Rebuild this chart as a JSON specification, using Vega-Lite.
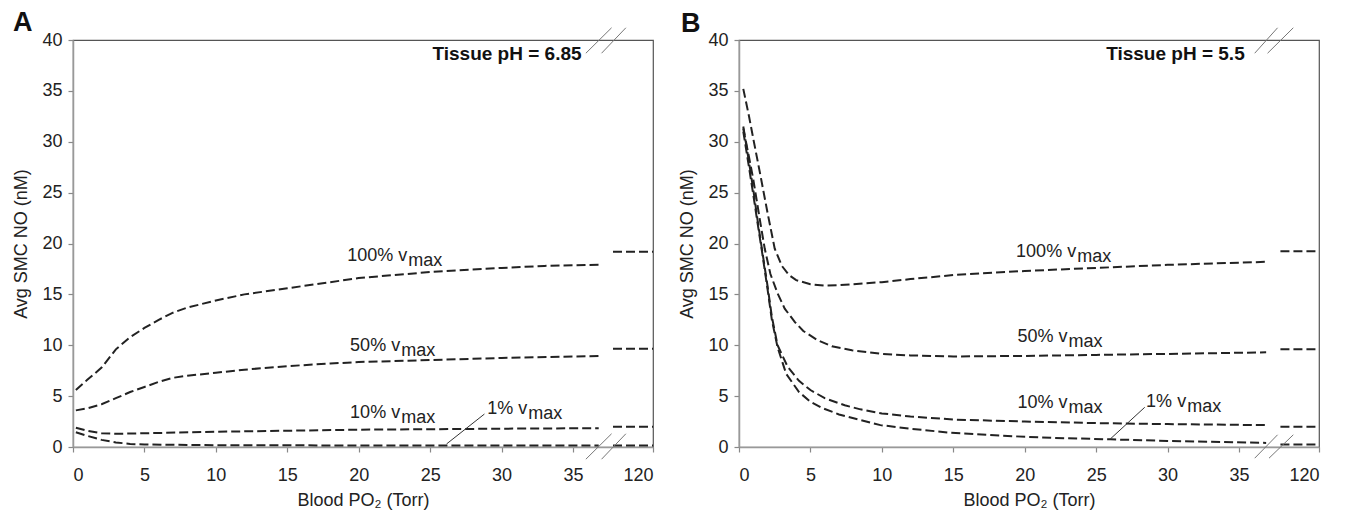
{
  "$schema": "https://vega.github.io/schema/vega-lite/v6.json",
  "autosize": {"type": "pad"},
  "padding": {"left": 12, "top": 8, "right": 5, "bottom": 5},
  "background": "white",
  "spacing": 20,
  "config": {
    "font": "Liberation Sans",
    "view": {"stroke": "#555", "strokeWidth": 1.2},
    "axis": {"domainColor": "#999", "domainWidth": 1.5, "tickColor": "#888", "tickSize": 5, "tickWidth": 1.2, "labelFont": "Liberation Sans", "labelFontSize": 18, "labelColor": "#222", "titleFont": "Liberation Sans", "titleFontSize": 18, "titleFontWeight": "normal", "titleColor": "#222", "grid": false},
    "axisX": {"labelPadding": 14, "titlePadding": 7},
    "axisY": {"labelPadding": 6, "titlePadding": 11}
  },
  "datasets": {
    "curves": [
      {"panel": "A", "curve": "100 main", "x": 0.2, "y": 5.6}, {"panel": "A", "curve": "100 main", "x": 1, "y": 6.6}, {"panel": "A", "curve": "100 main", "x": 2, "y": 7.8}, {"panel": "A", "curve": "100 main", "x": 3, "y": 9.6}, {"panel": "A", "curve": "100 main", "x": 4, "y": 10.8}, {"panel": "A", "curve": "100 main", "x": 5, "y": 11.7}, {"panel": "A", "curve": "100 main", "x": 6, "y": 12.5}, {"panel": "A", "curve": "100 main", "x": 7, "y": 13.2}, {"panel": "A", "curve": "100 main", "x": 8, "y": 13.7}, {"panel": "A", "curve": "100 main", "x": 10, "y": 14.4}, {"panel": "A", "curve": "100 main", "x": 12, "y": 15.0}, {"panel": "A", "curve": "100 main", "x": 15, "y": 15.6}, {"panel": "A", "curve": "100 main", "x": 18, "y": 16.2}, {"panel": "A", "curve": "100 main", "x": 20, "y": 16.6}, {"panel": "A", "curve": "100 main", "x": 25, "y": 17.2}, {"panel": "A", "curve": "100 main", "x": 30, "y": 17.6}, {"panel": "A", "curve": "100 main", "x": 33, "y": 17.8}, {"panel": "A", "curve": "100 main", "x": 36.8, "y": 17.9},
      {"panel": "A", "curve": "100 end", "x": 37.8, "y": 19.2}, {"panel": "A", "curve": "100 end", "x": 40.6, "y": 19.2},
      {"panel": "A", "curve": "50 main", "x": 0.2, "y": 3.6}, {"panel": "A", "curve": "50 main", "x": 1, "y": 3.8}, {"panel": "A", "curve": "50 main", "x": 2, "y": 4.2}, {"panel": "A", "curve": "50 main", "x": 3, "y": 4.8}, {"panel": "A", "curve": "50 main", "x": 4, "y": 5.4}, {"panel": "A", "curve": "50 main", "x": 5, "y": 5.9}, {"panel": "A", "curve": "50 main", "x": 6, "y": 6.4}, {"panel": "A", "curve": "50 main", "x": 7, "y": 6.8}, {"panel": "A", "curve": "50 main", "x": 8, "y": 7.0}, {"panel": "A", "curve": "50 main", "x": 10, "y": 7.3}, {"panel": "A", "curve": "50 main", "x": 12, "y": 7.6}, {"panel": "A", "curve": "50 main", "x": 15, "y": 7.95}, {"panel": "A", "curve": "50 main", "x": 18, "y": 8.2}, {"panel": "A", "curve": "50 main", "x": 20, "y": 8.35}, {"panel": "A", "curve": "50 main", "x": 25, "y": 8.55}, {"panel": "A", "curve": "50 main", "x": 30, "y": 8.75}, {"panel": "A", "curve": "50 main", "x": 36.8, "y": 8.95},
      {"panel": "A", "curve": "50 end", "x": 37.8, "y": 9.65}, {"panel": "A", "curve": "50 end", "x": 40.6, "y": 9.65},
      {"panel": "A", "curve": "10 main", "x": 0.2, "y": 1.9}, {"panel": "A", "curve": "10 main", "x": 1, "y": 1.6}, {"panel": "A", "curve": "10 main", "x": 2, "y": 1.35}, {"panel": "A", "curve": "10 main", "x": 3, "y": 1.3}, {"panel": "A", "curve": "10 main", "x": 5, "y": 1.35}, {"panel": "A", "curve": "10 main", "x": 10, "y": 1.5}, {"panel": "A", "curve": "10 main", "x": 15, "y": 1.6}, {"panel": "A", "curve": "10 main", "x": 20, "y": 1.7}, {"panel": "A", "curve": "10 main", "x": 25, "y": 1.75}, {"panel": "A", "curve": "10 main", "x": 30, "y": 1.8}, {"panel": "A", "curve": "10 main", "x": 36.8, "y": 1.85},
      {"panel": "A", "curve": "10 end", "x": 37.8, "y": 2.0}, {"panel": "A", "curve": "10 end", "x": 40.6, "y": 2.0},
      {"panel": "A", "curve": "1 main", "x": 0.2, "y": 1.45}, {"panel": "A", "curve": "1 main", "x": 1, "y": 1.1}, {"panel": "A", "curve": "1 main", "x": 2, "y": 0.7}, {"panel": "A", "curve": "1 main", "x": 3, "y": 0.45}, {"panel": "A", "curve": "1 main", "x": 4, "y": 0.3}, {"panel": "A", "curve": "1 main", "x": 5, "y": 0.25}, {"panel": "A", "curve": "1 main", "x": 8, "y": 0.2}, {"panel": "A", "curve": "1 main", "x": 10, "y": 0.18}, {"panel": "A", "curve": "1 main", "x": 20, "y": 0.15}, {"panel": "A", "curve": "1 main", "x": 36.8, "y": 0.15},
      {"panel": "A", "curve": "1 end", "x": 37.8, "y": 0.15}, {"panel": "A", "curve": "1 end", "x": 40.6, "y": 0.15},

      {"panel": "B", "curve": "100 main", "x": 0.3, "y": 35.2}, {"panel": "B", "curve": "100 main", "x": 0.7, "y": 32.5}, {"panel": "B", "curve": "100 main", "x": 1, "y": 30.3}, {"panel": "B", "curve": "100 main", "x": 1.5, "y": 26.7}, {"panel": "B", "curve": "100 main", "x": 2, "y": 23.0}, {"panel": "B", "curve": "100 main", "x": 2.5, "y": 19.5}, {"panel": "B", "curve": "100 main", "x": 3, "y": 17.8}, {"panel": "B", "curve": "100 main", "x": 3.5, "y": 16.9}, {"panel": "B", "curve": "100 main", "x": 4, "y": 16.4}, {"panel": "B", "curve": "100 main", "x": 5, "y": 16.0}, {"panel": "B", "curve": "100 main", "x": 6, "y": 15.85}, {"panel": "B", "curve": "100 main", "x": 7, "y": 15.9}, {"panel": "B", "curve": "100 main", "x": 8, "y": 16.0}, {"panel": "B", "curve": "100 main", "x": 10, "y": 16.2}, {"panel": "B", "curve": "100 main", "x": 12, "y": 16.5}, {"panel": "B", "curve": "100 main", "x": 15, "y": 16.9}, {"panel": "B", "curve": "100 main", "x": 20, "y": 17.3}, {"panel": "B", "curve": "100 main", "x": 25, "y": 17.6}, {"panel": "B", "curve": "100 main", "x": 30, "y": 17.9}, {"panel": "B", "curve": "100 main", "x": 36.9, "y": 18.2},
      {"panel": "B", "curve": "100 end", "x": 37.9, "y": 19.25}, {"panel": "B", "curve": "100 end", "x": 40.6, "y": 19.25},
      {"panel": "B", "curve": "50 main", "x": 0.3, "y": 31.3}, {"panel": "B", "curve": "50 main", "x": 0.7, "y": 28.5}, {"panel": "B", "curve": "50 main", "x": 1, "y": 26.3}, {"panel": "B", "curve": "50 main", "x": 1.5, "y": 22.0}, {"panel": "B", "curve": "50 main", "x": 1.8, "y": 19.5}, {"panel": "B", "curve": "50 main", "x": 2.2, "y": 17.0}, {"panel": "B", "curve": "50 main", "x": 2.7, "y": 15.1}, {"panel": "B", "curve": "50 main", "x": 3.2, "y": 13.6}, {"panel": "B", "curve": "50 main", "x": 3.9, "y": 12.3}, {"panel": "B", "curve": "50 main", "x": 4.5, "y": 11.4}, {"panel": "B", "curve": "50 main", "x": 5.5, "y": 10.5}, {"panel": "B", "curve": "50 main", "x": 6.5, "y": 9.9}, {"panel": "B", "curve": "50 main", "x": 7.9, "y": 9.5}, {"panel": "B", "curve": "50 main", "x": 10, "y": 9.15}, {"panel": "B", "curve": "50 main", "x": 12, "y": 9.0}, {"panel": "B", "curve": "50 main", "x": 15, "y": 8.9}, {"panel": "B", "curve": "50 main", "x": 20, "y": 8.95}, {"panel": "B", "curve": "50 main", "x": 25, "y": 9.05}, {"panel": "B", "curve": "50 main", "x": 30, "y": 9.15}, {"panel": "B", "curve": "50 main", "x": 36.9, "y": 9.3},
      {"panel": "B", "curve": "50 end", "x": 37.9, "y": 9.6}, {"panel": "B", "curve": "50 end", "x": 40.6, "y": 9.6},
      {"panel": "B", "curve": "10 main", "x": 0.3, "y": 31.5}, {"panel": "B", "curve": "10 main", "x": 0.7, "y": 28.0}, {"panel": "B", "curve": "10 main", "x": 1, "y": 25.3}, {"panel": "B", "curve": "10 main", "x": 1.3, "y": 22.3}, {"panel": "B", "curve": "10 main", "x": 1.6, "y": 19.5}, {"panel": "B", "curve": "10 main", "x": 2, "y": 15.8}, {"panel": "B", "curve": "10 main", "x": 2.3, "y": 12.8}, {"panel": "B", "curve": "10 main", "x": 2.7, "y": 10.0}, {"panel": "B", "curve": "10 main", "x": 3.4, "y": 7.9}, {"panel": "B", "curve": "10 main", "x": 4.2, "y": 6.5}, {"panel": "B", "curve": "10 main", "x": 5, "y": 5.6}, {"panel": "B", "curve": "10 main", "x": 6, "y": 4.8}, {"panel": "B", "curve": "10 main", "x": 7.4, "y": 4.1}, {"panel": "B", "curve": "10 main", "x": 8.5, "y": 3.7}, {"panel": "B", "curve": "10 main", "x": 10, "y": 3.3}, {"panel": "B", "curve": "10 main", "x": 12, "y": 3.0}, {"panel": "B", "curve": "10 main", "x": 15, "y": 2.7}, {"panel": "B", "curve": "10 main", "x": 20, "y": 2.5}, {"panel": "B", "curve": "10 main", "x": 25, "y": 2.35}, {"panel": "B", "curve": "10 main", "x": 30, "y": 2.25}, {"panel": "B", "curve": "10 main", "x": 36.9, "y": 2.15},
      {"panel": "B", "curve": "10 end", "x": 37.9, "y": 2.0}, {"panel": "B", "curve": "10 end", "x": 40.6, "y": 2.0},
      {"panel": "B", "curve": "1 main", "x": 0.3, "y": 31.0}, {"panel": "B", "curve": "1 main", "x": 0.7, "y": 27.5}, {"panel": "B", "curve": "1 main", "x": 1, "y": 24.8}, {"panel": "B", "curve": "1 main", "x": 1.3, "y": 22.0}, {"panel": "B", "curve": "1 main", "x": 1.6, "y": 19.3}, {"panel": "B", "curve": "1 main", "x": 2, "y": 15.5}, {"panel": "B", "curve": "1 main", "x": 2.3, "y": 12.5}, {"panel": "B", "curve": "1 main", "x": 2.7, "y": 9.8}, {"panel": "B", "curve": "1 main", "x": 3.3, "y": 7.2}, {"panel": "B", "curve": "1 main", "x": 4.2, "y": 5.4}, {"panel": "B", "curve": "1 main", "x": 5, "y": 4.45}, {"panel": "B", "curve": "1 main", "x": 5.8, "y": 3.85}, {"panel": "B", "curve": "1 main", "x": 7, "y": 3.2}, {"panel": "B", "curve": "1 main", "x": 8.5, "y": 2.65}, {"panel": "B", "curve": "1 main", "x": 9.9, "y": 2.15}, {"panel": "B", "curve": "1 main", "x": 12, "y": 1.8}, {"panel": "B", "curve": "1 main", "x": 14.8, "y": 1.4}, {"panel": "B", "curve": "1 main", "x": 17.4, "y": 1.2}, {"panel": "B", "curve": "1 main", "x": 19.3, "y": 1.05}, {"panel": "B", "curve": "1 main", "x": 22, "y": 0.9}, {"panel": "B", "curve": "1 main", "x": 26, "y": 0.75}, {"panel": "B", "curve": "1 main", "x": 30, "y": 0.6}, {"panel": "B", "curve": "1 main", "x": 36.9, "y": 0.4},
      {"panel": "B", "curve": "1 end", "x": 37.9, "y": 0.25}, {"panel": "B", "curve": "1 end", "x": 40.6, "y": 0.25}
    ],
    "labels": [
      {"panel": "A", "x": 23.4, "y": 18.75, "t": "100% v"},
      {"panel": "A", "x": 22.9, "y": 9.9, "t": "50% v"},
      {"panel": "A", "x": 22.9, "y": 3.34, "t": "10% v"},
      {"panel": "A", "x": 31.8, "y": 3.73, "t": "1% v"},
      {"panel": "B", "x": 23.6, "y": 19.15, "t": "100% v"},
      {"panel": "B", "x": 23.0, "y": 10.8, "t": "50% v"},
      {"panel": "B", "x": 23.0, "y": 4.28, "t": "10% v"},
      {"panel": "B", "x": 31.3, "y": 4.38, "t": "1% v"}
    ],
    "notes": [
      {"panel": "A", "kind": "letter", "x": -4.2, "y": 41.65, "t": "A"},
      {"panel": "B", "kind": "letter", "x": -4.06, "y": 41.6, "t": "B"},
      {"panel": "A", "kind": "ph", "x": 35.6, "y": 38.6, "t": "Tissue pH = 6.85"},
      {"panel": "B", "kind": "ph", "x": 35.4, "y": 38.6, "t": "Tissue pH = 5.5"}
    ],
    "segs": [
      {"panel": "A", "kind": "leader", "x": 28.8, "y": 3.24, "x2": 26.15, "y2": 0.3},
      {"panel": "B", "kind": "leader", "x": 28.4, "y": 3.9, "x2": 26.0, "y2": 0.8},
      {"panel": "A", "kind": "break", "x": 35.9, "y": 38.7, "x2": 37.7, "y2": 41.2},
      {"panel": "A", "kind": "break", "x": 37.0, "y": 38.7, "x2": 38.7, "y2": 41.2},
      {"panel": "A", "kind": "break", "x": 35.9, "y": -1.2, "x2": 37.7, "y2": 1.3},
      {"panel": "A", "kind": "break", "x": 37.0, "y": -1.2, "x2": 38.7, "y2": 1.3},
      {"panel": "B", "kind": "break", "x": 36.1, "y": 38.7, "x2": 37.7, "y2": 41.2},
      {"panel": "B", "kind": "break", "x": 37.0, "y": 38.7, "x2": 38.8, "y2": 41.2},
      {"panel": "B", "kind": "break", "x": 36.1, "y": -1.1, "x2": 37.7, "y2": 1.2},
      {"panel": "B", "kind": "break", "x": 37.1, "y": -1.1, "x2": 38.8, "y2": 1.2}
    ]
  },
  "hconcat": [
    {
      "width": 580, "height": 407,
      "encoding": {
        "x": {"field": "x", "type": "quantitative", "scale": {"domain": [0, 40.6], "nice": false, "zero": false}, "axis": {"values": [0, 5, 10, 15, 20, 25, 30, 35, 40.6], "labelExpr": "datum.value > 38 ? '120' : datum.label", "title": "Blood PO₂ (Torr)"}},
        "y": {"field": "y", "type": "quantitative", "scale": {"domain": [0, 40], "nice": false, "zero": false}, "axis": {"values": [0, 5, 10, 15, 20, 25, 30, 35, 40], "title": "Avg SMC NO (nM)"}}
      },
      "layer": [
        {"data": {"name": "curves"}, "transform": [{"filter": "datum.panel === 'A'"}], "mark": {"type": "line", "strokeDash": [9, 4], "strokeWidth": 2, "color": "#222"}, "encoding": {"detail": {"field": "curve"}}},
        {"data": {"name": "labels"}, "transform": [{"filter": "datum.panel === 'A'"}], "mark": {"type": "text", "align": "right", "baseline": "middle", "fontSize": 18, "color": "#222"}, "encoding": {"text": {"field": "t"}}},
        {"data": {"name": "labels"}, "transform": [{"filter": "datum.panel === 'A'"}], "mark": {"type": "text", "align": "left", "baseline": "middle", "fontSize": 18, "dy": 5, "dx": 1, "color": "#222"}, "encoding": {"text": {"value": "max"}}},
        {"data": {"name": "notes"}, "transform": [{"filter": "datum.panel === 'A' && datum.kind === 'ph'"}], "mark": {"type": "text", "align": "right", "baseline": "middle", "fontSize": 19, "fontWeight": "bold", "color": "#111"}, "encoding": {"text": {"field": "t"}}},
        {"data": {"name": "notes"}, "transform": [{"filter": "datum.panel === 'A' && datum.kind === 'letter'"}], "mark": {"type": "text", "align": "left", "baseline": "middle", "fontSize": 27, "fontWeight": "bold", "color": "#111"}, "encoding": {"text": {"field": "t"}}},
        {"data": {"name": "segs"}, "transform": [{"filter": "datum.panel === 'A' && datum.kind === 'leader'"}], "mark": {"type": "rule", "strokeWidth": 1, "color": "#333"}, "encoding": {"x2": {"field": "x2"}, "y2": {"field": "y2"}}},
        {"data": {"name": "segs"}, "transform": [{"filter": "datum.panel === 'A' && datum.kind === 'break'"}], "mark": {"type": "rule", "strokeWidth": 1, "color": "#777"}, "encoding": {"x2": {"field": "x2"}, "y2": {"field": "y2"}}}
      ]
    },
    {
      "width": 580, "height": 407,
      "encoding": {
        "x": {"field": "x", "type": "quantitative", "scale": {"domain": [0, 40.6], "nice": false, "zero": false}, "axis": {"values": [0, 5, 10, 15, 20, 25, 30, 35, 40.6], "labelExpr": "datum.value > 38 ? '120' : datum.label", "title": "Blood PO₂ (Torr)"}},
        "y": {"field": "y", "type": "quantitative", "scale": {"domain": [0, 40], "nice": false, "zero": false}, "axis": {"values": [0, 5, 10, 15, 20, 25, 30, 35, 40], "title": "Avg SMC NO (nM)"}}
      },
      "layer": [
        {"data": {"name": "curves"}, "transform": [{"filter": "datum.panel === 'B'"}], "mark": {"type": "line", "strokeDash": [9, 4], "strokeWidth": 2, "color": "#222"}, "encoding": {"detail": {"field": "curve"}}},
        {"data": {"name": "labels"}, "transform": [{"filter": "datum.panel === 'B'"}], "mark": {"type": "text", "align": "right", "baseline": "middle", "fontSize": 18, "color": "#222"}, "encoding": {"text": {"field": "t"}}},
        {"data": {"name": "labels"}, "transform": [{"filter": "datum.panel === 'B'"}], "mark": {"type": "text", "align": "left", "baseline": "middle", "fontSize": 18, "dy": 5, "dx": 1, "color": "#222"}, "encoding": {"text": {"value": "max"}}},
        {"data": {"name": "notes"}, "transform": [{"filter": "datum.panel === 'B' && datum.kind === 'ph'"}], "mark": {"type": "text", "align": "right", "baseline": "middle", "fontSize": 19, "fontWeight": "bold", "color": "#111"}, "encoding": {"text": {"field": "t"}}},
        {"data": {"name": "notes"}, "transform": [{"filter": "datum.panel === 'B' && datum.kind === 'letter'"}], "mark": {"type": "text", "align": "left", "baseline": "middle", "fontSize": 27, "fontWeight": "bold", "color": "#111"}, "encoding": {"text": {"field": "t"}}},
        {"data": {"name": "segs"}, "transform": [{"filter": "datum.panel === 'B' && datum.kind === 'leader'"}], "mark": {"type": "rule", "strokeWidth": 1, "color": "#333"}, "encoding": {"x2": {"field": "x2"}, "y2": {"field": "y2"}}},
        {"data": {"name": "segs"}, "transform": [{"filter": "datum.panel === 'B' && datum.kind === 'break'"}], "mark": {"type": "rule", "strokeWidth": 1, "color": "#777"}, "encoding": {"x2": {"field": "x2"}, "y2": {"field": "y2"}}}
      ]
    }
  ]
}
